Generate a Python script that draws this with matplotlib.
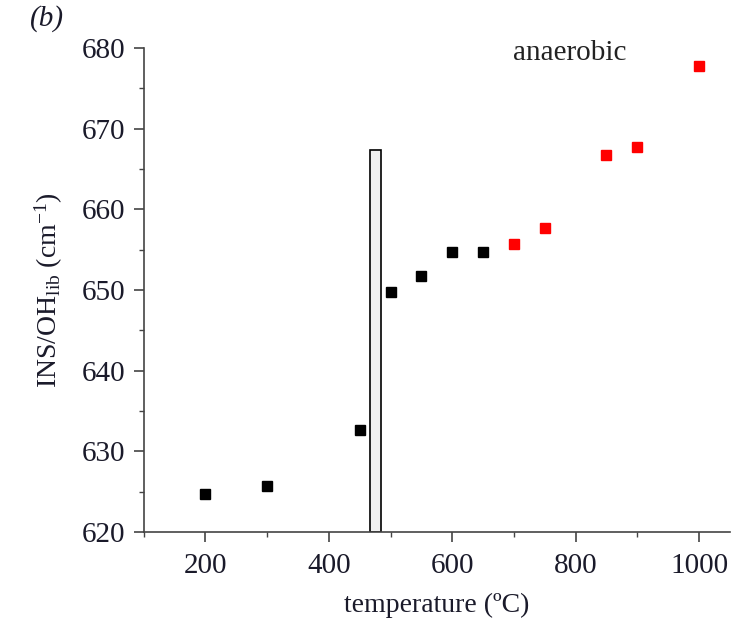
import matplotlib
matplotlib.use('Agg')
import matplotlib.pyplot as plt
from matplotlib.ticker import MultipleLocator

plt.rcParams['font.family'] = ['Liberation Serif', 'DejaVu Serif']
plt.rcParams['mathtext.fontset'] = 'custom'
plt.rcParams['mathtext.rm'] = 'Liberation Serif'
plt.rcParams['mathtext.it'] = 'Liberation Serif:italic'

# --- data ---
temp_black = [200, 300, 450, 500, 550, 600, 650]
ins_black = [624.7, 625.7, 632.7, 649.7, 651.7, 654.7, 654.7]
temp_red = [700, 750, 850, 900, 1000]
ins_red = [655.7, 657.7, 666.7, 667.7, 677.8]

# transition band (bar)
bar_x = 475
bar_width = 18
bar_top = 667.3

fig = plt.figure(figsize=(7.41, 6.27), dpi=100)
ax = fig.add_axes([0.194, 0.1515, 0.791, 0.772])

ax.bar(bar_x, bar_top - 620, bottom=620, width=bar_width,
       color='#f0f0f0', edgecolor='black', linewidth=1.2, zorder=2)

ax.plot(temp_black, ins_black, 's', color='black', markersize=7.2, zorder=3)
ax.plot(temp_red, ins_red, 's', color='#ff0000', markersize=7.2, zorder=3)

ax.text(790, 679.4, 'anaerobic', fontsize=21, ha='center', va='center', color='#222222')

ax.set_xlim(100, 1050)
ax.set_ylim(620, 680)
ax.xaxis.set_major_locator(MultipleLocator(200))
ax.xaxis.set_minor_locator(MultipleLocator(100))
ax.yaxis.set_major_locator(MultipleLocator(10))
ax.yaxis.set_minor_locator(MultipleLocator(5))

for side in ['top', 'right']:
    ax.spines[side].set_visible(False)
for side in ['left', 'bottom']:
    ax.spines[side].set_color('#444444')
    ax.spines[side].set_linewidth(1.2)

ax.tick_params(which='major', direction='out', length=7, width=1.2, color='#444444',
               labelsize=21, labelcolor='#1a1a2a', pad=6)
ax.tick_params(which='minor', direction='out', length=3.5, width=1.0, color='#444444')
ax.tick_params(axis='x', which='major', pad=8)

ax.set_xlabel('temperature (ºC)', fontsize=20, color='#1a1a2a', labelpad=10)
ax.set_ylabel(r'INS/OH$_{\mathrm{lib}}$ (cm$^{-1}$)', fontsize=20, color='#1a1a2a', labelpad=12)

fig.text(0.04, 0.97, '(b)', fontsize=21, ha='left', va='center', style='italic', color='#1a1a2a')

fig.savefig('out.png', dpi=100)
